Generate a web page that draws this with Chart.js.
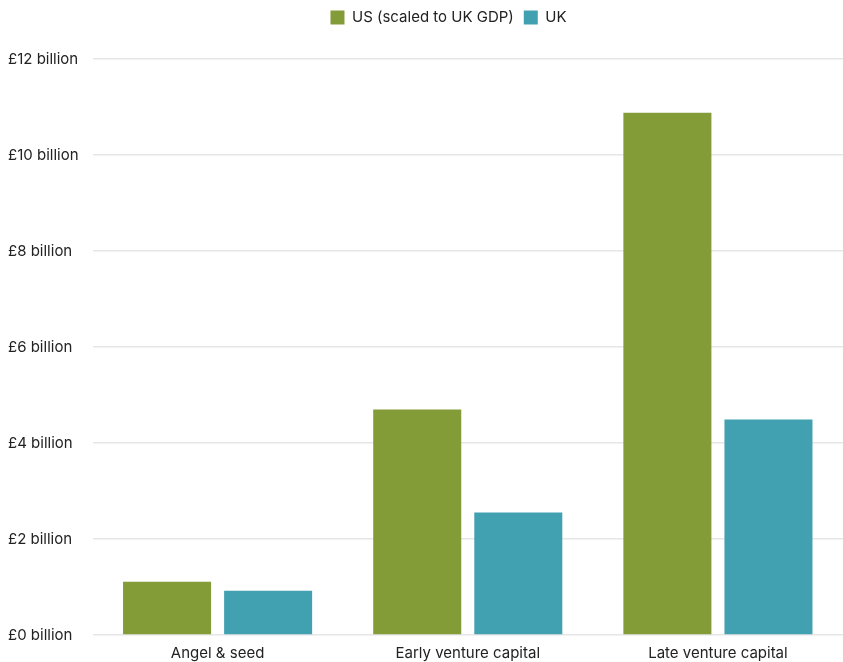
<!DOCTYPE html>
<html>
<head>
<meta charset="utf-8">
<script src="https://cdn.jsdelivr.net/npm/chart.js@4"></script>
<style>
  html, body { margin: 0; padding: 0; background: #fff; }
  #wrap { width: 843px; height: 662px; position: relative; }
</style>
</head>
<body>
<div id="wrap"><canvas id="chart"></canvas></div>
<script>
// Investment by stage, £ billion
const stages = ['Angel & seed', 'Early venture capital', 'Late venture capital'];
const usScaled = [1.11, 4.70, 10.88];
const ukValues = [0.92, 2.55, 4.49];
const yTicks = [0, 2, 4, 6, 8, 10, 12];

const GREEN = '#839c38';
const TEAL = '#42a1b0';

Chart.defaults.font.family = 'Inter, "Noto Sans", sans-serif';
Chart.defaults.font.size = 15;
Chart.defaults.color = '#222';

// extra room under the legend, and nudge it right a little
const legendSpacing = {
    id: 'legendSpacing',
    beforeInit(chart) {
        const fit = chart.legend.fit;
        chart.legend.fit = function () {
            fit.call(this);
            this.height += 24;
        };
    },
    afterLayout(chart) {
        chart.legend.left += 46;
    }
};

const ctx = document.getElementById('chart').getContext('2d');
new Chart(ctx, {
    type: 'bar',
    data: {
        labels: stages,
        datasets: [
            {
                label: 'US (scaled to UK GDP)',
                data: usScaled,
                backgroundColor: GREEN,
                categoryPercentage: 0.808,
                barPercentage: 0.871
            },
            {
                label: 'UK',
                data: ukValues,
                backgroundColor: TEAL,
                categoryPercentage: 0.808,
                barPercentage: 0.871
            }
        ]
    },
    options: {
        responsive: true,
        maintainAspectRatio: false,
        animation: false,
        layout: { padding: { left: 8, right: 0, top: 0, bottom: 0 } },
        plugins: {
            legend: {
                position: 'top',
                labels: {
                    boxWidth: 14,
                    boxHeight: 14,
                    padding: 10,
                    font: { size: 15 }
                }
            },
            tooltip: { enabled: false }
        },
        scales: {
            x: {
                grid: { display: false, drawTicks: false },
                border: { display: false },
                ticks: { padding: 9, font: { size: 15 } },
                afterFit: scale => { scale.height -= 9; }
            },
            y: {
                min: 0,
                max: 12,
                afterBuildTicks: axis => {
                    axis.ticks = yTicks.map(v => ({ value: v }));
                },
                grid: { color: '#e6e6e6', drawTicks: false, lineWidth: 1.5 },
                border: { display: false },
                ticks: {
                    crossAlign: 'far',
                    padding: 7,
                    font: { size: 15 },
                    callback: v => '£' + v + ' billion'
                }
            }
        }
    },
    plugins: [legendSpacing]
});
</script>
</body>
</html>
